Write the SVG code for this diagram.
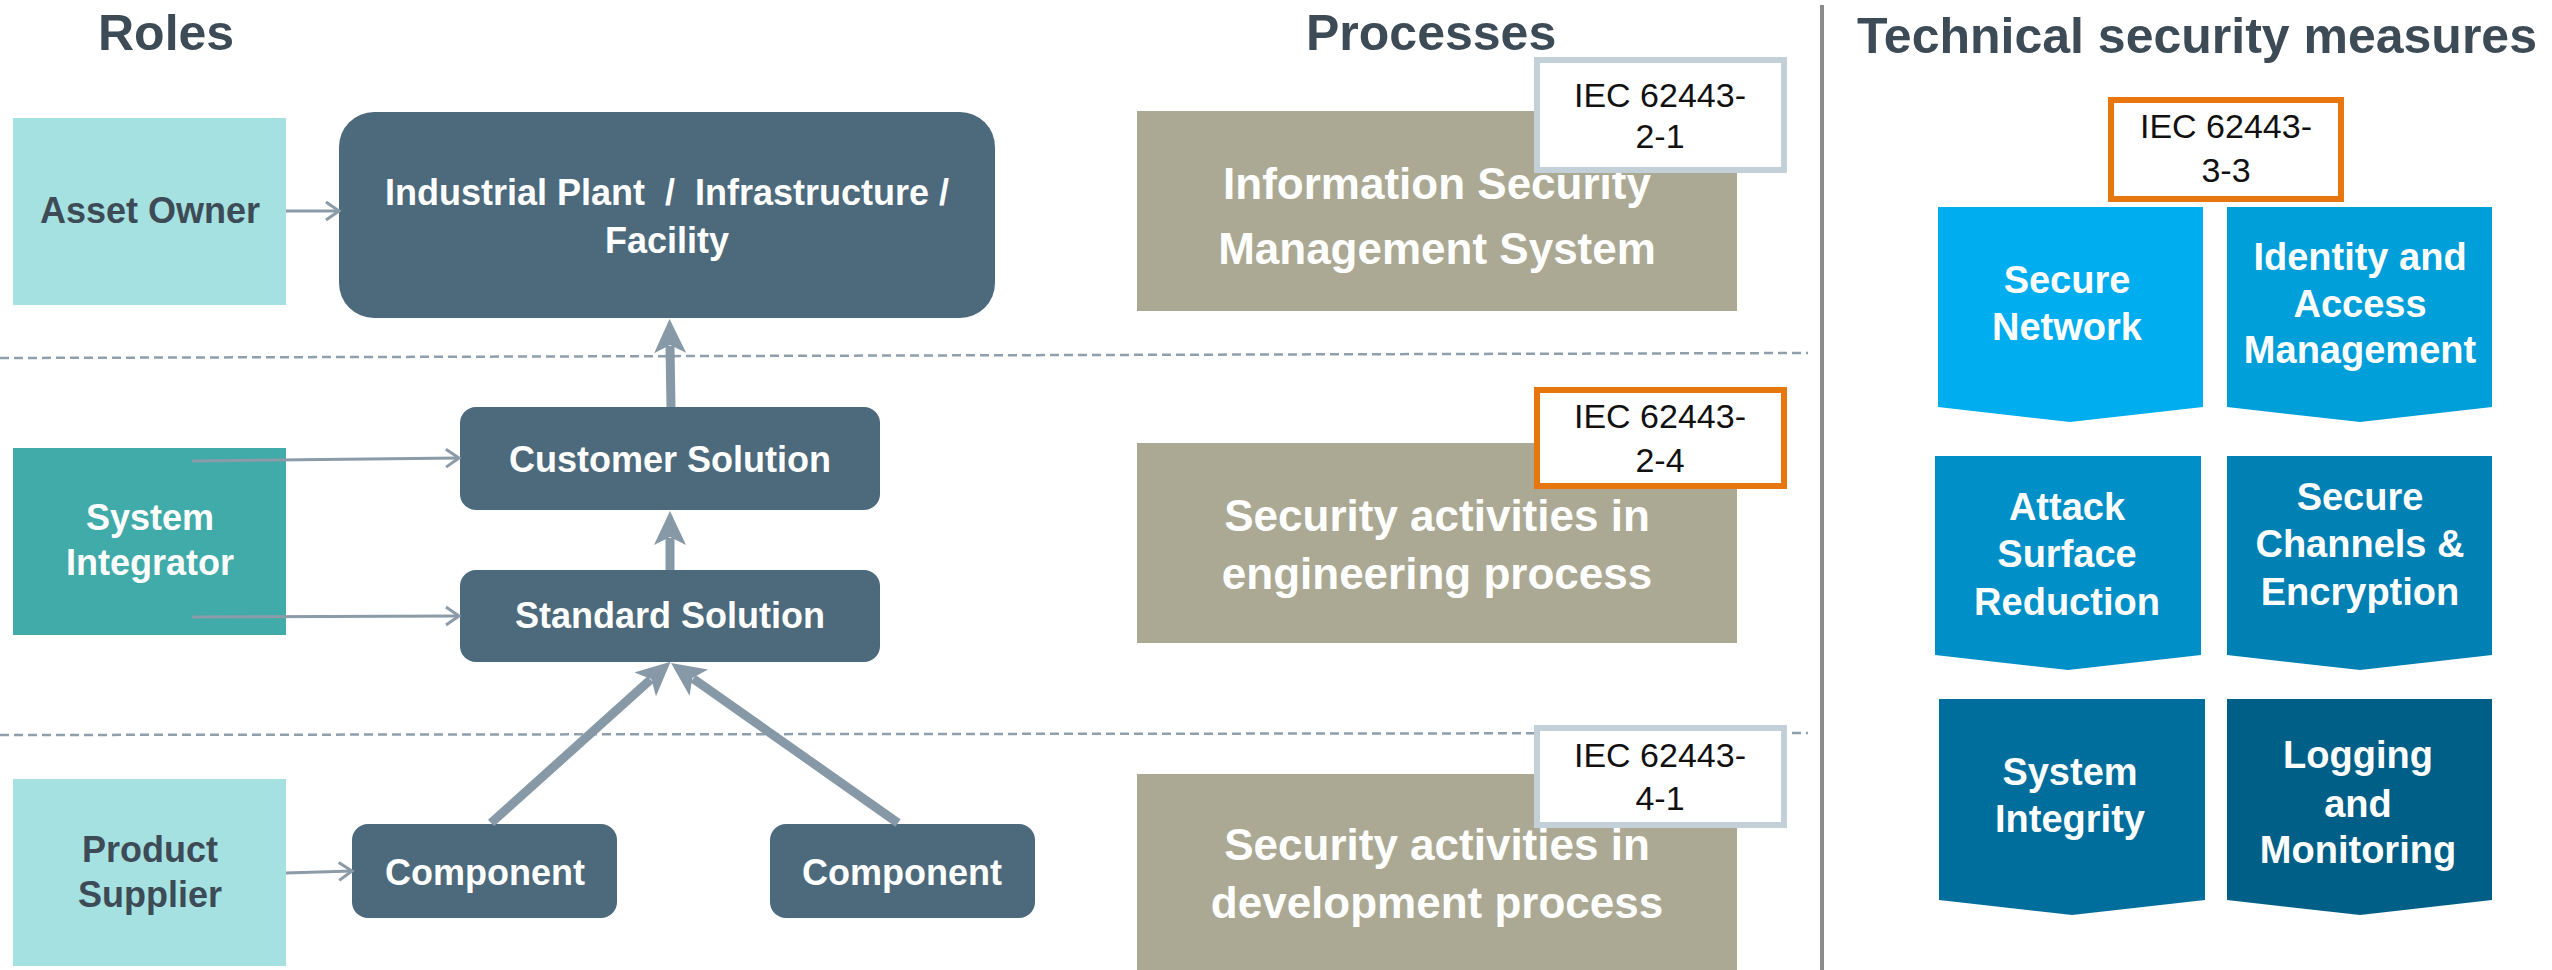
<svg xmlns="http://www.w3.org/2000/svg" width="2552" height="970" viewBox="0 0 2552 970">
<defs>
<style>
text{font-family:"Liberation Sans",Arial,sans-serif;}
.title{font-size:50px;font-weight:bold;fill:#3d4b56;}
.role{font-size:36px;font-weight:bold;fill:#3d4b56;text-anchor:middle;}
.roleW{font-size:36px;font-weight:bold;fill:#ffffff;text-anchor:middle;}
.node{fill:#4d6a7c;}
.nodeT{font-size:36px;font-weight:bold;fill:#ffffff;text-anchor:middle;}
.proc{fill:#aba993;}
.procT{font-size:44px;font-weight:bold;fill:#ffffff;text-anchor:middle;}
.iec{fill:#ffffff;stroke-width:6;}
.iecG{stroke:#c3d0d8;}
.iecO{stroke:#e8760f;}
.iecT{font-size:34px;fill:#111111;text-anchor:middle;}
.blkT{font-size:38px;font-weight:bold;fill:#ffffff;text-anchor:middle;}
.dash{stroke:#8fa0ac;stroke-width:2.5;stroke-dasharray:9 5;fill:none;}
.thin{stroke:#8b9ba8;stroke-width:3;fill:none;marker-end:url(#open);}
.thick{stroke:#8799a6;stroke-width:9;fill:none;marker-end:url(#head);}
</style>
<marker id="open" viewBox="0 0 16 20" refX="14" refY="10" markerWidth="16" markerHeight="20" markerUnits="userSpaceOnUse" orient="auto" overflow="visible">
<path d="M1,1 L14,10 L1,19" fill="none" stroke="#8b9ba8" stroke-width="3"/>
</marker>
<marker id="head" viewBox="0 0 34 32" refX="7" refY="16" markerWidth="34" markerHeight="32" markerUnits="userSpaceOnUse" orient="auto">
<path d="M0,0 L34,16 L0,32 L8,16 z" fill="#8799a6"/>
</marker>
</defs>
<rect x="0" y="0" width="2552" height="970" fill="#ffffff"/>

<g id="titles">
<text class="title" x="98" y="50">Roles</text>
<text class="title" x="1306" y="50">Processes</text>
<text class="title" x="1857" y="53">Technical security measures</text>
</g>

<g id="separators">
<line x1="1822" y1="5" x2="1822" y2="970" stroke="#8c8c8c" stroke-width="4"/>
<line class="dash" x1="0" y1="358" x2="1808" y2="353"/>
<line class="dash" x1="0" y1="735" x2="1808" y2="733"/>
</g>

<g id="asset-owner">
<rect x="13" y="118" width="273" height="187" fill="#a6e1e1"/>
<text class="role" x="150" y="223">Asset Owner</text>
</g>
<g id="system-integrator">
<rect x="13" y="448" width="273" height="187" fill="#41aba9"/>
<text class="roleW" x="150" y="530">System</text>
<text class="roleW" x="150" y="575">Integrator</text>
</g>
<g id="product-supplier">
<rect x="13" y="779" width="273" height="187" fill="#a6e1e1"/>
<text class="role" x="150" y="862">Product</text>
<text class="role" x="150" y="907">Supplier</text>
</g>

<g id="industrial-plant">
<rect class="node" x="339" y="112" width="656" height="206" rx="35" ry="35"/>
<text class="nodeT" x="667" y="205" xml:space="preserve">Industrial Plant  /  Infrastructure /</text>
<text class="nodeT" x="667" y="253">Facility</text>
</g>
<g id="customer-solution">
<rect class="node" x="460" y="407" width="420" height="103" rx="16" ry="16"/>
<text class="nodeT" x="670" y="472">Customer Solution</text>
</g>
<g id="standard-solution">
<rect class="node" x="460" y="570" width="420" height="92" rx="16" ry="16"/>
<text class="nodeT" x="670" y="628">Standard Solution</text>
</g>
<g id="component-1">
<rect class="node" x="352" y="824" width="265" height="94" rx="16" ry="16"/>
<text class="nodeT" x="485" y="885">Component</text>
</g>
<g id="component-2">
<rect class="node" x="770" y="824" width="265" height="94" rx="16" ry="16"/>
<text class="nodeT" x="902" y="885">Component</text>
</g>

<g id="connectors">
<line class="thin" x1="286" y1="211" x2="339" y2="211"/>
<line class="thin" x1="192" y1="461" x2="459" y2="458"/>
<line class="thin" x1="192" y1="617" x2="459" y2="616"/>
<line class="thin" x1="286" y1="873" x2="352" y2="871"/>
<line class="thick" x1="671" y1="407" x2="670" y2="346"/>
<line class="thick" x1="670" y1="570" x2="670" y2="538"/>
<line class="thick" x1="491" y1="823" x2="650.5" y2="679.7"/>
<line class="thick" x1="898" y1="823" x2="693.1" y2="678.6" stroke-width="11"/>
</g>

<g id="process-isms">
<rect class="proc" x="1137" y="111" width="600" height="200"/>
<text class="procT" x="1437" y="199">Information Security</text>
<text class="procT" x="1437" y="264">Management System</text>
</g>
<g id="process-engineering">
<rect class="proc" x="1137" y="443" width="600" height="200"/>
<text class="procT" x="1437" y="531">Security activities in</text>
<text class="procT" x="1437" y="589">engineering process</text>
</g>
<g id="process-development">
<rect class="proc" x="1137" y="774" width="600" height="196"/>
<text class="procT" x="1437" y="860">Security activities in</text>
<text class="procT" x="1437" y="918">development process</text>
</g>

<g id="iec-2-1">
<rect class="iec iecG" x="1537" y="60" width="247" height="110"/>
<text class="iecT" x="1660" y="107">IEC 62443-</text>
<text class="iecT" x="1660" y="148">2-1</text>
</g>
<g id="iec-2-4">
<rect class="iec iecO" x="1537" y="390" width="247" height="96"/>
<text class="iecT" x="1660" y="428">IEC 62443-</text>
<text class="iecT" x="1660" y="472">2-4</text>
</g>
<g id="iec-4-1">
<rect class="iec iecG" x="1537" y="728" width="247" height="97"/>
<text class="iecT" x="1660" y="767">IEC 62443-</text>
<text class="iecT" x="1660" y="810">4-1</text>
</g>
<g id="iec-3-3">
<rect class="iec iecO" x="2111" y="100" width="230" height="99"/>
<text class="iecT" x="2226" y="138">IEC 62443-</text>
<text class="iecT" x="2226" y="182">3-3</text>
</g>

<g id="secure-network">
<path d="M1938,207 H2203 V407 L2070,422 L1938,407 Z" fill="#00adef"/>
<text class="blkT" x="2067" y="293">Secure</text>
<text class="blkT" x="2067" y="340">Network</text>
</g>
<g id="identity-access">
<path d="M2227,207 H2492 V407 L2360,422 L2227,407 Z" fill="#019fda"/>
<text class="blkT" x="2360" y="270">Identity and</text>
<text class="blkT" x="2360" y="317">Access</text>
<text class="blkT" x="2360" y="363">Management</text>
</g>
<g id="attack-surface">
<path d="M1935,456 H2201 V655 L2068,670 L1935,655 Z" fill="#008fc7"/>
<text class="blkT" x="2067" y="520">Attack</text>
<text class="blkT" x="2067" y="567">Surface</text>
<text class="blkT" x="2067" y="615">Reduction</text>
</g>
<g id="secure-channels">
<path d="M2227,456 H2492 V655 L2360,670 L2227,655 Z" fill="#0080b3"/>
<text class="blkT" x="2360" y="510">Secure</text>
<text class="blkT" x="2360" y="557">Channels &amp;</text>
<text class="blkT" x="2360" y="605">Encryption</text>
</g>
<g id="system-integrity">
<path d="M1939,699 H2205 V900 L2072,915 L1939,900 Z" fill="#006e9c"/>
<text class="blkT" x="2070" y="785">System</text>
<text class="blkT" x="2070" y="832">Integrity</text>
</g>
<g id="logging-monitoring">
<path d="M2227,699 H2492 V900 L2360,915 L2227,900 Z" fill="#005f87"/>
<text class="blkT" x="2358" y="768">Logging</text>
<text class="blkT" x="2358" y="817">and</text>
<text class="blkT" x="2358" y="863">Monitoring</text>
</g>
</svg>
